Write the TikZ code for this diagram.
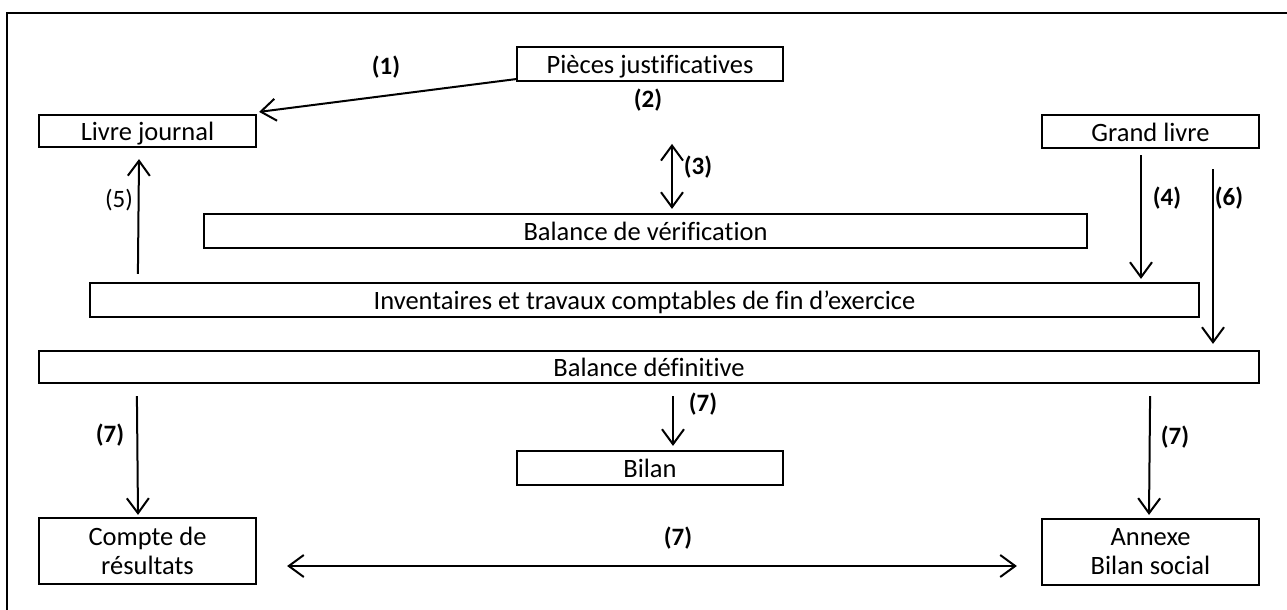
\documentclass[tikz,border=0pt]{standalone}
\usepackage{fontspec}
\setmainfont{Carlito}[Ligatures={NoCommon,NoContextual}]
\usetikzlibrary{arrows.meta,calc}

\begin{document}
\begin{tikzpicture}[x=1pt,y=-1pt,
  box/.style={draw,line width=2.2pt,inner sep=0pt,
    font=\fontsize{26.5}{29}\selectfont},
  onebox/.style={box,text height=23pt,text depth=3.5pt},
  twobox/.style={box,align=center},
  lbl/.style={font=\fontsize{25}{30}\selectfont\bfseries,inner sep=0pt},
  lblplain/.style={font=\fontsize{25}{30}\selectfont,inner sep=0pt},
  arr/.style={line width=2pt,-{Straight Barb[length=15pt,width=22pt,line width=2pt]}},
  darr/.style={line width=2pt,{Straight Barb[length=15pt,width=22pt,line width=2pt]}-{Straight Barb[length=15pt,width=22pt,line width=2pt]}}]

  \useasboundingbox (0,0) rectangle (1287,610);
  \fill[white] (0,0) rectangle (1287,610);

  % frame (top and left edges)
  \draw[line width=2.6pt] (7,610) -- (7,13) -- (1287,13);

  % boxes
  \node[onebox,minimum width=266pt,minimum height=34pt] (pieces) at (650,64) {Pièces justificatives};
  \node[onebox,minimum width=217pt,minimum height=32pt] (livre) at (147.5,131) {Livre journal};
  \node[onebox,minimum width=217pt,minimum height=33pt] (grand) at (1150.5,131.5) {Grand livre};
  \node[onebox,minimum width=883pt,minimum height=34pt] (verif) at (645.5,231) {Balance de vérification};
  \node[onebox,minimum width=1109pt,minimum height=34pt] (inv) at (644.5,300) {Inventaires et travaux comptables de fin d’exercice};
  \node[onebox,minimum width=1220pt,minimum height=32pt] (defin) at (649,367) {Balance définitive};
  \node[onebox,minimum width=266pt,minimum height=34pt] (bilan) at (650,468) {Bilan};
  \node[twobox,minimum width=217pt,minimum height=66pt] (compte) at (147.5,551) {Compte de\\résultats};
  \node[twobox,minimum width=217pt,minimum height=66pt] (annexe) at (1150.5,552) {Annexe\\Bilan social};

  % connectors
  \draw[arr] ($(pieces.south west)+(0,-3)$) -- ($(livre.north east)+(2,-2)$);
  \draw[darr] ($(verif.north)+(26.5,-69)$) -- ($(verif.north)+(26.5,-4)$);
  \draw[arr] ($(grand.south)+(-9.5,6)$) -- ($(inv.north)+(496.5,-3)$);
  \draw[arr] ($(grand.south)+(62.5,20)$) -- ($(defin.north)+(564,-6)$);
  \draw[arr] ($(inv.north west)+(49,-8)$) -- ($(livre.south)+(-8.5,11)$);
  \draw[arr] ($(defin.south west)+(99,12)$) -- ($(compte.north)+(-9.5,-2)$);
  \draw[arr] ($(defin.south)+(24,12)$) -- ($(bilan.north)+(23,-4)$);
  \draw[arr] ($(defin.south east)+(-110,12)$) -- ($(annexe.north)+(-1.5,-3)$);
  \draw[darr] ($(compte.east)+(30,15)$) -- ($(annexe.west)+(-24,14)$);

  % step labels
  \node[lbl] (l1) at (386,67) {(1)};
  \node[lbl] (l2) at (648,100) {(2)};
  \node[lbl] (l3) at (698,167) {(3)};
  \node[lbl] (l4) at (1167,198) {(4)};
  \node[lblplain] (l5) at (119,200) {(5)};
  \node[lbl] (l6) at (1229,198) {(6)};
  \node[lbl] (l7a) at (110,435) {(7)};
  \node[lbl] (l7b) at (703,404) {(7)};
  \node[lbl] (l7c) at (1175,437) {(7)};
  \node[lbl] (l7d) at (678,538) {(7)};
\end{tikzpicture}
\end{document}
